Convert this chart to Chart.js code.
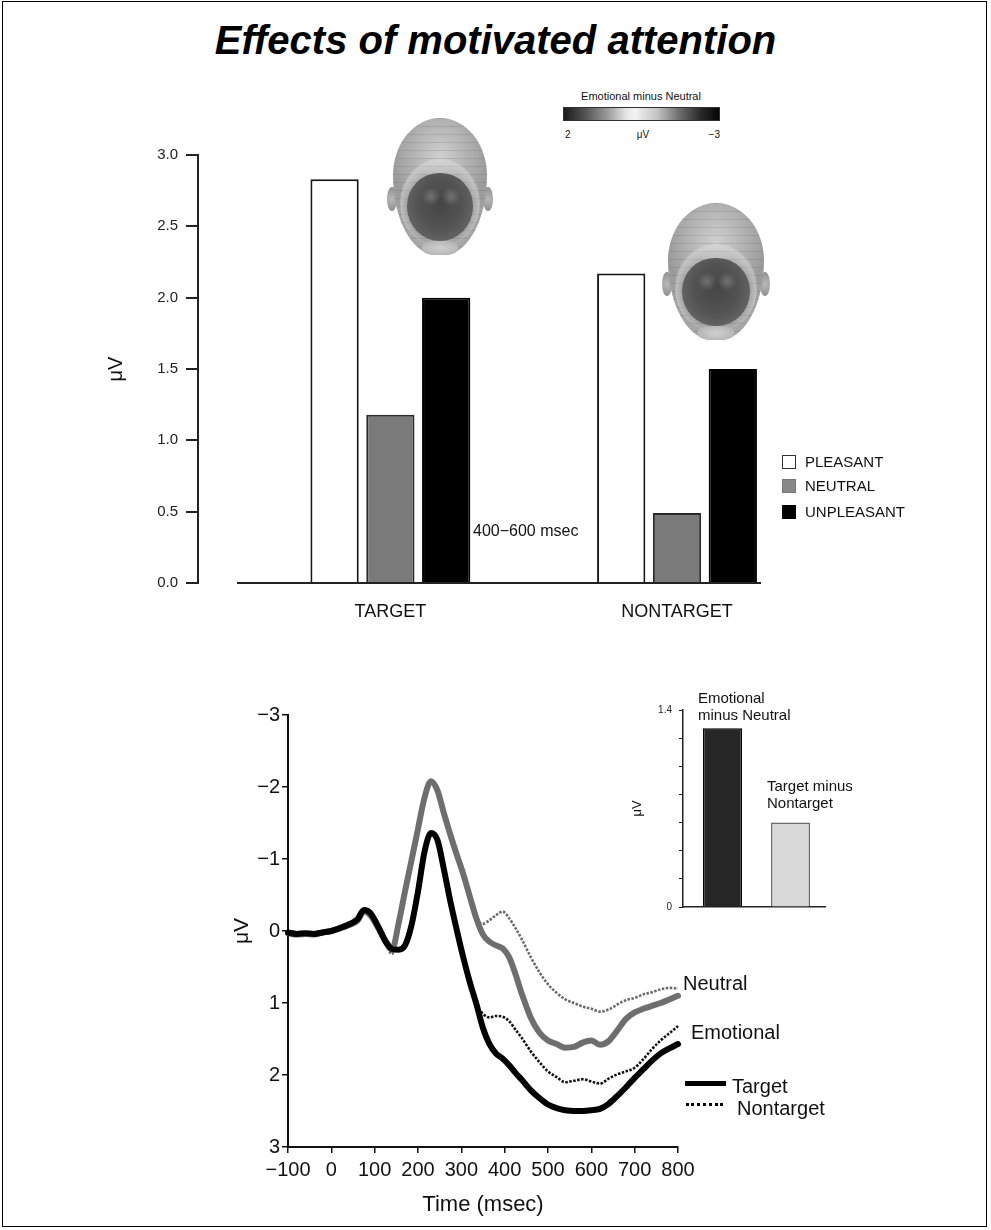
<!DOCTYPE html>
<html><head><meta charset="utf-8">
<script src="https://cdn.jsdelivr.net/npm/chart.js@4.4.0/dist/chart.umd.min.js"></script>
<style>
html,body{margin:0;padding:0;background:#fff;}
#page{position:relative;width:991px;height:1230px;overflow:hidden;font-family:'Liberation Sans',Arial,Helvetica,sans-serif;color:#111;}
#frame{position:absolute;left:2px;top:1px;width:983px;height:1224px;border:1.5px solid #000;}
.abs{position:absolute;white-space:nowrap;}
canvas{position:absolute;}
.head{position:absolute;}
.head div{position:absolute;}
.ear{top:50%;width:10%;height:18%;border-radius:50%;background:radial-gradient(circle at 50% 50%,#b8b8b8,#8c8c8c);}
.ear.l{left:-3%}.ear.r{right:-3%}
.skull{left:3%;top:0;width:94%;height:100%;border-radius:50% 50% 46% 46%/42% 42% 58% 58%;
 background:repeating-linear-gradient(to bottom,rgba(70,70,70,0.14) 0 1px,transparent 1px 8px),
 radial-gradient(ellipse 70% 60% at 50% 28%,#cfcfcf 0%,#b0b0b0 45%,#9a9a9a 75%,#a6a6a6 100%);}
.band{left:10%;top:30%;width:80%;height:64%;border-radius:50%;background:radial-gradient(ellipse at 50% 55%,rgba(0,0,0,0) 55%,rgba(220,220,220,0.5) 68%,rgba(0,0,0,0) 80%);}
.core{left:17%;top:40%;width:66%;height:50%;border-radius:48% 48% 50% 50%;background:radial-gradient(ellipse at 50% 45%,#464646 0%,#525252 45%,#646464 75%,#7a7a7a 100%);}
.spot{top:50%;width:18%;height:14%;border-radius:50%;background:radial-gradient(circle,rgba(150,150,150,0.5),rgba(150,150,150,0) 70%);}
.spot.s1{left:32%}.spot.s2{left:52%}
.neck{left:32%;top:90%;width:36%;height:10%;border-radius:40%;background:radial-gradient(#d0d0d0,#adadad);}
</style></head>
<body><div id="page">
<div id="frame"></div>
<div class="abs" style="left:0;top:20px;width:991px;text-align:center;font-size:40px;line-height:40px;font-weight:bold;font-style:italic;color:#000;">Effects of motivated attention</div>

<div class="abs" style="left:560px;top:89px;width:162px;text-align:center;font-size:11px;line-height:14px;">Emotional minus Neutral</div>
<div class="abs" style="left:563px;top:107px;width:155px;height:12px;border:1px solid #333;background:linear-gradient(to right,#1a1a1a 0%,#555 14%,#9a9a9a 28%,#e4e4e4 40%,#f2f2f2 46%,#c4c4c4 60%,#6a6a6a 75%,#2a2a2a 88%,#050505 100%);"></div>
<div class="abs" style="left:565px;top:129px;font-size:10px;line-height:12px;">2</div>
<div class="abs" style="left:633px;top:129px;width:20px;text-align:center;font-size:10px;line-height:12px;">μV</div>
<div class="abs" style="left:700px;top:129px;width:20px;text-align:right;font-size:10px;line-height:12px;">−3</div>

<canvas id="topChart" width="991" height="520" style="left:0;top:120px;"></canvas>

<div class="head" style="left:390px;top:118px;width:100px;height:137px;">
 <div class="ear l"></div><div class="ear r"></div><div class="skull"></div><div class="band"></div><div class="neck"></div><div class="core"></div><div class="spot s1"></div><div class="spot s2"></div>
</div>
<div class="head" style="left:665px;top:203px;width:102px;height:137px;">
 <div class="ear l"></div><div class="ear r"></div><div class="skull"></div><div class="band"></div><div class="neck"></div><div class="core"></div><div class="spot s1"></div><div class="spot s2"></div>
</div>

<div class="abs" style="left:473px;top:522px;font-size:16px;line-height:18px;">400−600 msec</div>
<div id="topLegend"></div>

<canvas id="erpChart" width="490" height="540" style="left:230px;top:690px;"></canvas>
<canvas id="insetChart" width="210" height="230" style="left:630px;top:690px;"></canvas>

<div class="abs" style="left:698px;top:689px;font-size:15px;line-height:17px;">Emotional<br>minus Neutral</div>
<div class="abs" style="left:767px;top:777px;font-size:15px;line-height:17px;">Target minus<br>Nontarget</div>

<div class="abs" style="left:683px;top:971px;font-size:20px;line-height:24px;">Neutral</div>
<div class="abs" style="left:691px;top:1020px;font-size:20px;line-height:24px;">Emotional</div>
<div class="abs" style="left:685px;top:1081px;width:41px;height:5px;background:#000;"></div>
<div class="abs" style="left:732px;top:1074px;font-size:20px;line-height:24px;">Target</div>
<div class="abs" style="left:686px;top:1103px;width:37px;height:0;border-top:3px dotted #000;"></div>
<div class="abs" style="left:737px;top:1096px;font-size:20px;line-height:24px;">Nontarget</div>
</div>
<script>
// ---------- top bar chart data ----------
const topCategories = ['TARGET', 'NONTARGET'];
const topSeriesNames = ['PLEASANT', 'NEUTRAL', 'UNPLEASANT'];
const pleasant = [2.83, 2.17];
const neutral = [1.18, 0.49];
const unpleasant = [2.0, 1.5];

// ---------- ERP waveform data (time in ms, amplitude in µV; negative up) ----------
const timeMs = [-100,-80,-60,-40,-20,0,20,40,60,75,90,110,125,140,155,170,185,200,215,230,245,260,275,290,305,320,335,350,365,380,395,410,425,440,460,480,500,520,540,560,580,600,620,640,660,680,700,720,740,760,780,800];
const neutralTarget = [0.03,0.05,0.04,0.05,0.02,0.0,-0.04,-0.08,-0.14,-0.27,-0.22,-0.02,0.15,0.26,-0.1,-0.55,-0.98,-1.42,-1.85,-2.08,-1.95,-1.63,-1.33,-1.05,-0.78,-0.47,-0.17,0.05,0.15,0.2,0.24,0.36,0.6,0.88,1.2,1.41,1.52,1.57,1.62,1.61,1.55,1.52,1.58,1.53,1.38,1.22,1.13,1.08,1.04,1.0,0.95,0.9];
const neutralNontarget = [0.03,0.05,0.04,0.05,0.02,0.0,-0.04,-0.08,-0.14,-0.27,-0.22,-0.02,0.17,0.32,-0.08,-0.55,-0.98,-1.42,-1.85,-2.08,-1.95,-1.63,-1.33,-1.05,-0.78,-0.47,-0.17,-0.1,-0.15,-0.22,-0.27,-0.18,-0.04,0.12,0.36,0.57,0.74,0.86,0.95,1.0,1.05,1.08,1.12,1.09,1.02,0.96,0.93,0.88,0.85,0.81,0.79,0.8];
const emotionalTarget = [0.02,0.04,0.03,0.04,0.02,0.0,-0.04,-0.09,-0.16,-0.29,-0.25,-0.04,0.14,0.25,0.26,0.2,-0.08,-0.55,-1.1,-1.36,-1.26,-0.85,-0.4,0.0,0.38,0.72,1.02,1.35,1.57,1.7,1.77,1.86,1.97,2.07,2.21,2.32,2.41,2.46,2.49,2.5,2.5,2.49,2.47,2.4,2.29,2.17,2.04,1.92,1.8,1.7,1.63,1.57];
const emotionalNontarget = [0.02,0.04,0.03,0.04,0.02,0.0,-0.04,-0.09,-0.16,-0.29,-0.25,-0.04,0.14,0.25,0.26,0.2,-0.08,-0.55,-1.1,-1.36,-1.26,-0.85,-0.4,0.0,0.38,0.72,1.02,1.15,1.2,1.18,1.19,1.25,1.37,1.49,1.67,1.82,1.95,2.03,2.1,2.08,2.06,2.09,2.12,2.05,1.99,1.95,1.9,1.78,1.64,1.52,1.42,1.32];

// ---------- inset bar data ----------
const insetCategories = ['Emotional minus Neutral', 'Target minus Nontarget'];
const insetValues = [1.27, 0.6];

const minus = v => (v < 0 ? '\u2212' + Math.abs(v) : String(v));

Chart.defaults.font.family = "'Liberation Sans', Arial, Helvetica, sans-serif";
Chart.defaults.color = '#111';
Chart.defaults.animation = false;

// HTML legend for top chart
const legendColors = [['#fff','#333'],['#888','#777'],['#000','#000']];
const lg = document.getElementById('topLegend');
topSeriesNames.forEach((n,i)=>{
  const top = [455,479,505][i];
  const sq = document.createElement('div');
  sq.className='abs';
  sq.style.cssText = `left:782px;top:${top}px;width:12px;height:12px;background:${legendColors[i][0]};border:1.5px solid ${legendColors[i][1]};`;
  lg.appendChild(sq);
  const t = document.createElement('div');
  t.className='abs';
  t.style.cssText = `left:805px;top:${top-2}px;font-size:15px;line-height:18px;`;
  t.textContent = n;
  lg.appendChild(t);
});

new Chart(document.getElementById('topChart'), {
  type: 'bar',
  data: {
    labels: [0, 1],
    datasets: [
      {label: topSeriesNames[0], data: pleasant, backgroundColor: '#ffffff', borderColor: '#151515', borderWidth: 2},
      {label: topSeriesNames[1], data: neutral, backgroundColor: '#7a7a7a', borderColor: '#2a2a2a', borderWidth: 2},
      {label: topSeriesNames[2], data: unpleasant, backgroundColor: '#000000', borderColor: '#000000', borderWidth: 2}
    ]
  },
  options: {
    responsive: false, animation: false,
    categoryPercentage: 0.584, barPercentage: 0.865,
    layout: {padding: {top: 35, left: 100, right: 231, bottom: 0}},
    plugins: {legend: {display: false}, tooltip: {enabled: false}},
    scales: {
      x: {
        type: 'linear', min: -0.5316, max: 1.2895, offset: false,
        afterBuildTicks(s) { s.ticks = topCategories.map((c, i) => ({value: i})); },
        ticks: {callback: v => topCategories[v] ?? '', font: {size: 18}, padding: 18, color: '#111', maxRotation: 0, autoSkip: false},
        grid: {display: true, drawOnChartArea: false, drawTicks: false},
        border: {display: true, color: '#222', width: 2},
        afterFit(s) { s.height = 57; }
      },
      y: {
        type: 'linear', position: 'left', weight: 1, min: 0, max: 3,
        ticks: {stepSize: 0.5, callback: v => v.toFixed(1), font: {size: 15}, padding: 8, color: '#222'},
        grid: {drawOnChartArea: false, tickLength: 12, color: '#222', lineWidth: 2},
        border: {display: true, color: '#222', width: 2},
        title: {display: true, text: 'μV', font: {size: 20}, color: '#111'},
        afterFit(s) { s.width = 98; }
      },
      ySpacer: {
        type: 'linear', axis: 'y', position: 'left', weight: 0, display: true,
        ticks: {display: false}, grid: {display: false}, border: {display: false},
        afterFit(s) { s.width = 40; }
      }
    }
  }
});

const lineDs = (label, data, color, width, dash) => ({
  label, data, borderColor: color, borderWidth: width, borderDash: dash || [],
  pointRadius: 0, cubicInterpolationMode: 'monotone', fill: false, clip: false,
  borderCapStyle: dash ? 'butt' : 'round', borderJoinStyle: 'round'
});

new Chart(document.getElementById('erpChart'), {
  type: 'line',
  data: {
    labels: timeMs,
    datasets: [
      lineDs('Emotional Target', emotionalTarget, '#000000', 6),
      lineDs('Neutral Target', neutralTarget, '#6e6e6e', 6),
      lineDs('Emotional Nontarget', emotionalNontarget, '#111111', 2.6, [2.5, 1.5]),
      lineDs('Neutral Nontarget', neutralNontarget, '#6a6a6a', 2.6, [2.5, 1.5])
    ]
  },
  options: {
    responsive: false, animation: false,
    layout: {padding: {top: 25, left: 0, right: 42, bottom: 8}},
    plugins: {legend: {display: false}, tooltip: {enabled: false}},
    scales: {
      x: {
        type: 'linear', min: -100, max: 800,
        ticks: {stepSize: 100, callback: v => minus(v), font: {size: 20}, padding: 5, color: '#111', maxRotation: 0, autoSkip: false},
        grid: {drawOnChartArea: false, tickLength: 6, color: '#111', lineWidth: 1.5},
        border: {display: true, color: '#111', width: 2},
        title: {display: true, text: 'Time (msec)', font: {size: 22}, color: '#111', padding: {top: 2, bottom: 4}},
        afterFit(s) { s.height = 75; }
      },
      y: {
        type: 'linear', reverse: true, min: -3, max: 3,
        ticks: {stepSize: 1, callback: v => minus(v), font: {size: 20}, padding: 2, color: '#111'},
        grid: {drawOnChartArea: false, tickLength: 6, color: '#111', lineWidth: 1.5},
        border: {display: true, color: '#111', width: 2},
        title: {display: true, text: 'μV', font: {size: 21}, color: '#111', padding: {top: 0, bottom: 0}},
        afterFit(s) { s.width = 58; }
      }
    }
  }
});

new Chart(document.getElementById('insetChart'), {
  type: 'bar',
  data: {
    labels: [0, 1],
    datasets: [{label: 'µV', data: insetValues, backgroundColor: ['#262626', '#d9d9d9'], borderColor: ['#000000', '#6a6a6a'], borderWidth: 1.5}]
  },
  options: {
    responsive: false, animation: false,
    categoryPercentage: 1, barPercentage: 0.5735,
    layout: {padding: {top: 20, left: 0, right: 15, bottom: 0}},
    plugins: {legend: {display: false}, tooltip: {enabled: false}},
    scales: {
      x: {
        type: 'linear', min: -0.581, max: 1.507, offset: false,
        afterBuildTicks(s) { s.ticks = insetCategories.map((c, i) => ({value: i})); },
        ticks: {display: false},
        grid: {display: true, drawOnChartArea: false, drawTicks: false},
        border: {display: true, color: '#222', width: 1.5},
        afterFit(s) { s.height = 11; }
      },
      y: {
        type: 'linear', min: 0, max: 1.4,
        ticks: {stepSize: 0.2, callback: v => (Math.abs(v) < 1e-9 ? '0' : (Math.abs(v - 1.4) < 1e-9 ? '1.4' : '')), font: {size: 10}, padding: 7, color: '#222'},
        grid: {drawOnChartArea: false, tickLength: 4, color: '#222'},
        border: {display: true, color: '#222', width: 1.5},
        title: {display: true, text: 'μV', font: {size: 13}, color: '#111', padding: {top: 0, bottom: 0}},
        afterFit(s) { s.width = 53; }
      }
    }
  }
});
</script>
</body></html>
